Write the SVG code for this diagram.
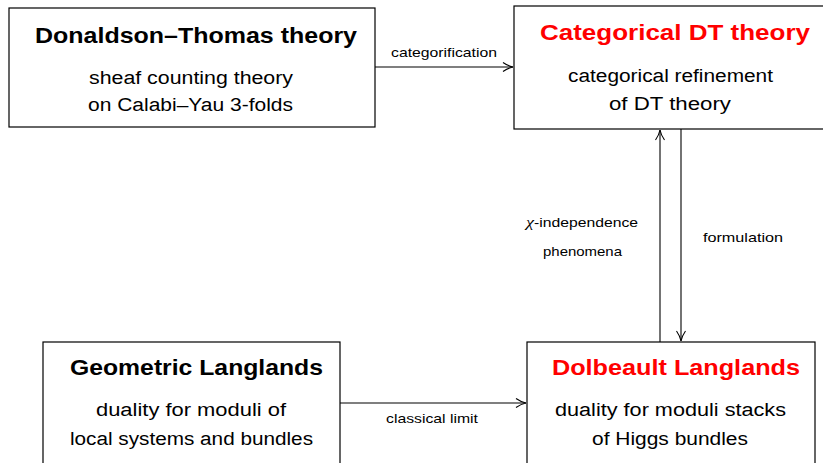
<svg xmlns="http://www.w3.org/2000/svg" width="823" height="463" viewBox="0 0 823 463">
<defs>
<style>
.box{fill:#fff;stroke:#000;stroke-width:1.2}
.t{font-family:"Liberation Sans",Arial,sans-serif;font-weight:bold;font-size:22px;text-anchor:middle;fill:#000}
.red{fill:#ff0000}
.s{font-family:"Liberation Sans",Arial,sans-serif;font-size:18px;text-anchor:middle;fill:#000}
.l{font-family:"Liberation Sans",Arial,sans-serif;font-size:13px;text-anchor:middle;fill:#000}
.c{fill:none;stroke:#000;stroke-width:1.1}
</style>
<marker id="ah" markerWidth="14" markerHeight="14" refX="11" refY="7" orient="auto" markerUnits="userSpaceOnUse">
<path d="M1,2.5 Q6,6 11,7 Q6,8 1,11.5" fill="none" stroke="#000" stroke-width="1.1"/>
</marker>
</defs>
<g id="connectors">
<line class="c" x1="375" y1="67" x2="513" y2="67" marker-end="url(#ah)"/>
<text class="l" x="444" y="57" textLength="106" lengthAdjust="spacingAndGlyphs">categorification</text>
<line class="c" x1="660" y1="342" x2="660" y2="130" marker-end="url(#ah)"/>
<text class="l" x="582" y="227" textLength="112" lengthAdjust="spacingAndGlyphs"><tspan font-family="Liberation Serif" font-style="italic" font-size="15">χ</tspan>-independence</text>
<text class="l" x="582.5" y="256" textLength="79" lengthAdjust="spacingAndGlyphs">phenomena</text>
<line class="c" x1="681" y1="129" x2="681" y2="341" marker-end="url(#ah)"/>
<text class="l" x="743" y="242" textLength="80" lengthAdjust="spacingAndGlyphs">formulation</text>
<line class="c" x1="340" y1="403" x2="526" y2="403" marker-end="url(#ah)"/>
<text class="l" x="432" y="423" textLength="92" lengthAdjust="spacingAndGlyphs">classical limit</text>
</g>
<g id="dt">
<rect class="box" x="9" y="8" width="366" height="119"/>
<text class="t" x="196" y="43" textLength="322" lengthAdjust="spacingAndGlyphs">Donaldson–Thomas theory</text>
<text class="s" x="191" y="84" textLength="204" lengthAdjust="spacingAndGlyphs">sheaf counting theory</text>
<text class="s" x="190.5" y="111" textLength="205" lengthAdjust="spacingAndGlyphs">on Calabi–Yau 3-folds</text>
</g>
<g id="cdt">
<rect class="box" x="514" y="6" width="312" height="123"/>
<text class="t red" x="675" y="40" textLength="270" lengthAdjust="spacingAndGlyphs">Categorical DT theory</text>
<text class="s" x="670.5" y="82" textLength="205" lengthAdjust="spacingAndGlyphs">categorical refinement</text>
<text class="s" x="670" y="110" textLength="122" lengthAdjust="spacingAndGlyphs">of DT theory</text>
</g>
<g id="gl">
<rect class="box" x="43" y="342" width="297" height="130"/>
<text class="t" x="196.5" y="375" textLength="253" lengthAdjust="spacingAndGlyphs">Geometric Langlands</text>
<text class="s" x="191" y="416" textLength="190" lengthAdjust="spacingAndGlyphs">duality for moduli of</text>
<text class="s" x="191.5" y="445" textLength="243" lengthAdjust="spacingAndGlyphs">local systems and bundles</text>
</g>
<g id="dl">
<rect class="box" x="527" y="342" width="288" height="130"/>
<text class="t red" x="676" y="375" textLength="248" lengthAdjust="spacingAndGlyphs">Dolbeault Langlands</text>
<text class="s" x="670.5" y="416" textLength="231" lengthAdjust="spacingAndGlyphs">duality for moduli stacks</text>
<text class="s" x="670" y="445" textLength="156" lengthAdjust="spacingAndGlyphs">of Higgs bundles</text>
</g>
</svg>
